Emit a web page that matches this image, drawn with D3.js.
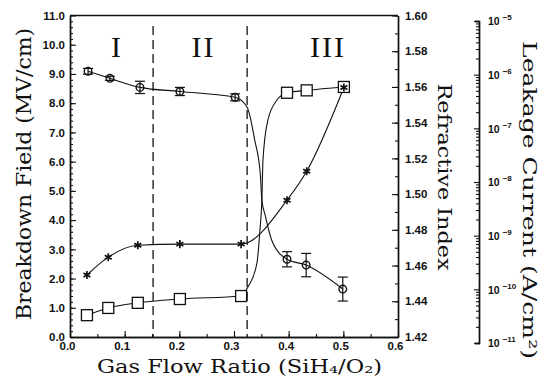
<!DOCTYPE html>
<html><head><meta charset="utf-8">
<script src="https://cdn.jsdelivr.net/npm/d3@7"></script>
<style>body{margin:0;background:#fff}</style>
</head><body><svg id="c" width="544" height="378"></svg>
<script>
// ---- data ----
const flowRatio = [0.031, 0.070, 0.124, 0.201, 0.313, 0.397, 0.433, 0.501];
const fieldRatio = [0.033, 0.073, 0.128, 0.201, 0.302, 0.397, 0.432, 0.499];
const breakdown = [9.09, 8.85, 8.54, 8.40, 8.20, 2.66, 2.46, 1.64];
const breakdownErr = [0.10, 0.07, 0.21, 0.14, 0.12, 0.26, 0.40, 0.41];
const refractiveIndex = [1.4547, 1.4647, 1.4714, 1.4720, 1.4720, 1.4966, 1.5128, 1.5597];
const leakage = [3.3e-11, 4.5e-11, 5.6e-11, 6.6e-11, 7.5e-11, 4.6e-7, 5.1e-7, 5.9e-7];
// hand-drawn fit curves
const breakdownFitX = [0.033, 0.073, 0.128, 0.201, 0.302, 0.324, 0.338, 0.348, 0.351, 0.357, 0.369, 0.397, 0.432, 0.499];
const breakdownFitY = [9.09, 8.85, 8.54, 8.40, 8.20, 7.86, 6.73, 5.60, 4.68, 4.17, 3.31, 2.66, 2.46, 1.64];
const leakageFitX = [0.031, 0.070, 0.124, 0.201, 0.313, 0.3256, 0.342, 0.3475, 0.351, 0.353, 0.362, 0.3786, 0.397, 0.433, 0.501];
const leakageFitY = [3.3e-11, 4.5e-11, 5.6e-11, 6.6e-11, 7.5e-11, 1.11e-10, 3.1e-10, 1.28e-9, 4.6e-9, 2.57e-8, 1.43e-7, 3.37e-7, 4.6e-7, 5.1e-7, 5.9e-7];
const regionBounds = [0.152, 0.324];
const regionLabels = ["I", "II", "III"];
const regionLabelX = [0.084, 0.244, 0.472];
const xTicks = [0, 0.1, 0.2, 0.3, 0.4, 0.5, 0.6];
const fieldTicks = [0,1,2,3,4,5,6,7,8,9,10,11];
const riTicks = [1.42,1.44,1.46,1.48,1.50,1.52,1.54,1.56,1.58,1.60];
const leakTicks = [1e-11,1e-10,1e-9,1e-8,1e-7,1e-6,1e-5];

const svg = d3.select("#c");
const L = 70, R = 398, T = 15.5, B = 337;
const x = d3.scaleLinear([0, 0.6], [L, R]);
const yF = d3.scaleLinear([0, 11], [B, T]);
const yN = d3.scaleLinear([1.42, 1.60], [B, T]);
const yL = d3.scaleLog([1e-11, 1e-5], [343, 21]);

const tickFont = "'Liberation Sans', Arial, sans-serif";
function styleAxis(g, fs) {
  g.selectAll("path.domain").attr("stroke", "#111").attr("stroke-width", 1.4);
  g.selectAll(".tick line").attr("stroke", "#111").attr("stroke-width", 1.1);
  g.selectAll(".tick text").attr("font-family", tickFont).attr("font-weight", "bold")
    .attr("font-size", fs).attr("fill", "#111");
}

// frame top line
svg.append("line").attr("x1", L).attr("x2", R).attr("y1", T).attr("y2", T)
  .attr("stroke", "#111").attr("stroke-width", 1.4);

// left axis
const gLm = svg.append("g").attr("transform", `translate(${L},0)`)
  .call(d3.axisLeft(yF).tickValues(d3.range(0, 55).map(i => i * 0.2)).tickSize(-3).tickSizeOuter(0).tickFormat(""));
styleAxis(gLm, 11);
const gL = svg.append("g").attr("transform", `translate(${L},0)`)
  .call(d3.axisLeft(yF).tickValues(fieldTicks).tickSize(-6).tickSizeOuter(0).tickPadding(5).tickFormat(d3.format(".1f")));
styleAxis(gL, 11.5);

// bottom axis
const gBm = svg.append("g").attr("transform", `translate(0,${B})`)
  .call(d3.axisBottom(x).tickValues(d3.range(0, 13).map(i => i * 0.05)).tickSize(-3).tickSizeOuter(0).tickFormat(""));
styleAxis(gBm, 11);
const gB = svg.append("g").attr("transform", `translate(0,${B})`)
  .call(d3.axisBottom(x).tickValues(xTicks).tickSize(-6).tickSizeOuter(0).tickPadding(5).tickFormat(d3.format(".1f")));
styleAxis(gB, 11.5);
gB.selectAll(".tick text").attr("dx", -3);

// right axis (refractive index)
const gRm = svg.append("g").attr("transform", `translate(${R},0)`)
  .call(d3.axisRight(yN).tickValues(d3.range(0, 19).map(i => 1.42 + i * 0.01)).tickSize(-3).tickSizeOuter(0).tickFormat(""));
styleAxis(gRm, 11);
const gR = svg.append("g").attr("transform", `translate(${R},0)`)
  .call(d3.axisRight(yN).tickValues(riTicks).tickSize(-6).tickSizeOuter(0).tickPadding(7).tickFormat(d3.format(".2f")));
styleAxis(gR, 11.5);

// leakage axis (log)
const LX = 479;
const minorLeak = [];
for (let e = -11; e < -5; e++) for (let m = 2; m <= 9; m++) minorLeak.push(m * Math.pow(10, e));
const gKm = svg.append("g").attr("transform", `translate(${LX},0)`)
  .call(d3.axisRight(yL).tickValues(minorLeak).tickSize(-3).tickSizeOuter(-4).tickFormat(""));
styleAxis(gKm, 10);
const gK = svg.append("g").attr("transform", `translate(${LX},0)`)
  .call(d3.axisRight(yL).tickValues(leakTicks).tickSize(-5).tickSizeOuter(-4).tickPadding(9).tickFormat(""));
styleAxis(gK, 10);
gK.selectAll(".tick").each(function(d) {
  const t = d3.select(this).append("text").attr("x", 9).attr("dy", "0.35em")
    .attr("font-family", tickFont).attr("font-weight", "bold").attr("font-size", 10.5).attr("fill", "#111");
  t.append("tspan").text("10");
  t.append("tspan").attr("dx", 3).attr("dy", -5).attr("font-size", 8).text("\u2212" + Math.round(-Math.log10(d)));
});

// region dashed lines
svg.selectAll("line.reg").data(regionBounds).join("line").attr("class", "reg")
  .attr("x1", d => x(d)).attr("x2", d => x(d)).attr("y1", 26).attr("y2", B)
  .attr("stroke", "#111").attr("stroke-width", 1.3).attr("stroke-dasharray", "9,5");
svg.selectAll("text.reg").data(regionLabels).join("text").attr("class", "reg")
  .attr("x", (d, i) => x(regionLabelX[i])).attr("y", 57).attr("text-anchor", "middle")
  .attr("font-family", "'Liberation Serif', 'Times New Roman', serif").attr("font-size", 30)
  .attr("letter-spacing", (d) => d.length > 1 ? 2 : 0)
  .attr("fill", "#111").text(d => d);

// curves
const curve = d3.curveMonotoneX;
svg.append("path").attr("fill", "none").attr("stroke", "#111").attr("stroke-width", 1.1)
  .attr("d", d3.line().curve(curve).x(i => x(breakdownFitX[i])).y(i => yF(breakdownFitY[i]))(d3.range(breakdownFitX.length)));
svg.append("path").attr("fill", "none").attr("stroke", "#111").attr("stroke-width", 1.1)
  .attr("d", d3.line().curve(curve).x(i => x(leakageFitX[i])).y(i => yL(leakageFitY[i]))(d3.range(leakageFitX.length)));
svg.append("path").attr("fill", "none").attr("stroke", "#111").attr("stroke-width", 1.1)
  .attr("d", d3.line().curve(curve).x(i => x(flowRatio[i])).y(i => yN(refractiveIndex[i]))(d3.range(flowRatio.length)));

// squares (leakage)
svg.selectAll("rect.sq").data(d3.range(flowRatio.length)).join("rect").attr("class", "sq")
  .attr("x", i => x(flowRatio[i]) - 5.5).attr("y", i => yL(leakage[i]) - 5.5)
  .attr("width", 11).attr("height", 11).attr("fill", "#fff").attr("stroke", "#111").attr("stroke-width", 1.3);

// stars (refractive index)
svg.selectAll("path.st").data(d3.range(flowRatio.length)).join("path").attr("class", "st")
  .attr("transform", i => `translate(${x(flowRatio[i])},${yN(refractiveIndex[i])})`)
  .attr("d", d3.symbol(d3.symbolAsterisk, 45)()).attr("fill", "none").attr("stroke", "#111").attr("stroke-width", 1.7);

// breakdown circles with error bars
const eb = svg.append("g").attr("stroke", "#111").attr("stroke-width", 1.2);
d3.range(fieldRatio.length).forEach(i => {
  const cx = x(fieldRatio[i]), y1 = yF(breakdown[i] + breakdownErr[i]), y2 = yF(breakdown[i] - breakdownErr[i]);
  eb.append("line").attr("x1", cx).attr("x2", cx).attr("y1", y1).attr("y2", y2);
  eb.append("line").attr("x1", cx - 5).attr("x2", cx + 5).attr("y1", y1).attr("y2", y1);
  eb.append("line").attr("x1", cx - 5).attr("x2", cx + 5).attr("y1", y2).attr("y2", y2);
});
svg.selectAll("circle.bd").data(d3.range(fieldRatio.length)).join("circle").attr("class", "bd")
  .attr("cx", i => x(fieldRatio[i])).attr("cy", i => yF(breakdown[i])).attr("r", 3.8)
  .attr("fill", "none").attr("stroke", "#111").attr("stroke-width", 1.4);

// axis titles
const titleFont = "'DejaVu Serif', 'Liberation Serif', serif";
svg.append("text").attr("transform", "translate(31,174) rotate(-90)").attr("text-anchor", "middle")
  .attr("font-family", titleFont).attr("font-size", 20).attr("fill", "#111")
  .attr("textLength", 292).attr("lengthAdjust", "spacingAndGlyphs").text("Breakdown Field (MV/cm)");
svg.append("text").attr("x", 97).attr("y", 373)
  .attr("font-family", titleFont).attr("font-size", 18).attr("fill", "#111")
  .attr("textLength", 285).attr("lengthAdjust", "spacingAndGlyphs").text("Gas Flow Ratio (SiH\u2084/O\u2082)");
svg.append("text").attr("transform", "translate(438,177) rotate(90)").attr("text-anchor", "middle")
  .attr("font-family", titleFont).attr("font-size", 18).attr("fill", "#111")
  .attr("textLength", 187).attr("lengthAdjust", "spacingAndGlyphs").text("Refractive Index");
svg.append("text").attr("transform", "translate(523,200) rotate(90)").attr("text-anchor", "middle")
  .attr("font-family", titleFont).attr("font-size", 19).attr("fill", "#111")
  .attr("textLength", 318).attr("lengthAdjust", "spacingAndGlyphs").text("Leakage Current (A/cm\u00b2)");
</script></body></html>
